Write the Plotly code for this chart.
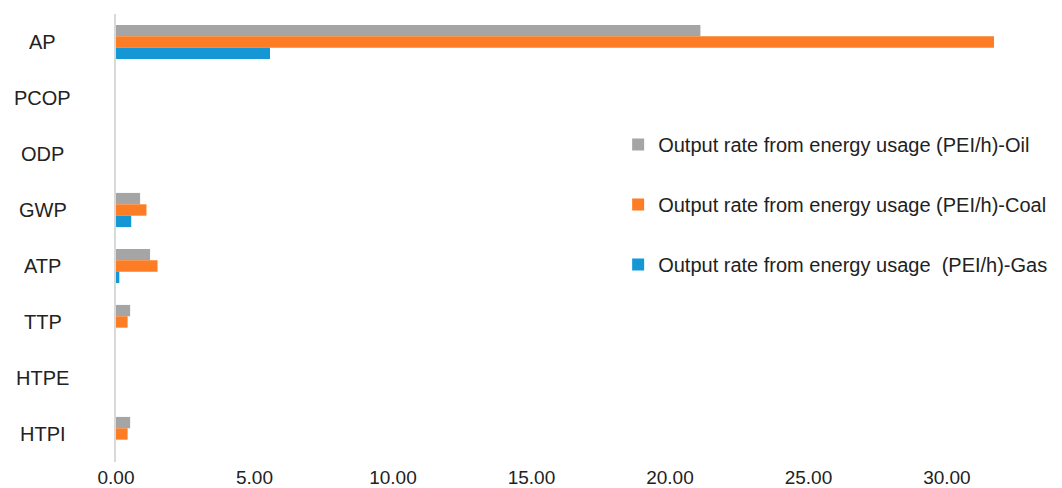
import plotly.graph_objects as go

categories = ["AP", "PCOP", "ODP", "GWP", "ATP", "TTP", "HTPE", "HTPI"]
oil = [21.1, 0.0, 0.0, 0.87, 1.23, 0.51, 0.0, 0.51]
coal = [31.7, 0.0, 0.0, 1.10, 1.50, 0.42, 0.0, 0.42]
gas = [5.56, 0.0, 0.0, 0.55, 0.12, 0.0, 0.0, 0.0]
x_ticks = [0, 5, 10, 15, 20, 25, 30]
x_tick_labels = ["0.00", "5.00", "10.00", "15.00", "20.00", "25.00", "30.00"]

names = [
    "Output rate from energy usage (PEI/h)-Oil",
    "Output rate from energy usage (PEI/h)-Coal",
    "Output rate from energy usage\u00a0\u00a0(PEI/h)-Gas",
]
colors = ["#A5A5A5", "#FD7D24", "#1597D5"]

# the page body adds an 8 px margin, so the figure is 8 px smaller
W, H = 1054, 480
L, T, B = 108, 6, 26
x_max = 33
plot_w = 914
R = W - L - plot_w

fig = go.Figure()
for i, (vals, name, col) in enumerate(zip([oil, coal, gas], names, colors)):
    fig.add_trace(go.Bar(
        y=categories, x=vals, orientation="h", name=name,
        marker=dict(color=col, line=dict(width=0)),
        legendgroup=f"g{i}",
    ))

# category labels, centred left of the axis
label_x = (34.5 - L) / plot_w
for c in categories:
    fig.add_annotation(
        x=label_x, xref="paper", y=c, yref="y", text=c, showarrow=False,
        xanchor="center", yanchor="middle",
        font=dict(size=20, color="#222222"),
    )

fig.update_layout(
    width=W, height=H,
    margin=dict(l=L, r=R, t=T, b=B, autoexpand=False),
    paper_bgcolor="white", plot_bgcolor="white",
    barmode="group", bargap=0.39, bargroupgap=0,
    font=dict(family="Liberation Sans, Arial, sans-serif", color="#222222", size=18),
    showlegend=True,
    legend=dict(
        x=0.5494, y=0.752, xanchor="left", yanchor="top",
        traceorder="grouped", tracegroupgap=31,
        font=dict(size=20, color="#222222"),
        bgcolor="rgba(0,0,0,0)",
    ),
    xaxis=dict(
        range=[0, x_max], tickvals=x_ticks, ticktext=x_tick_labels,
        showgrid=False, zeroline=False, showline=False, ticks="",
        tickfont=dict(size=19, color="#222222"), automargin=False,
        ticklabelstandoff=2,
    ),
    yaxis=dict(
        autorange="reversed", showgrid=False, zeroline=False,
        showline=True, linecolor="#D9D9D9", linewidth=1.5, ticks="",
        showticklabels=False, automargin=False,
    ),
)

fig.write_html("out.html")
